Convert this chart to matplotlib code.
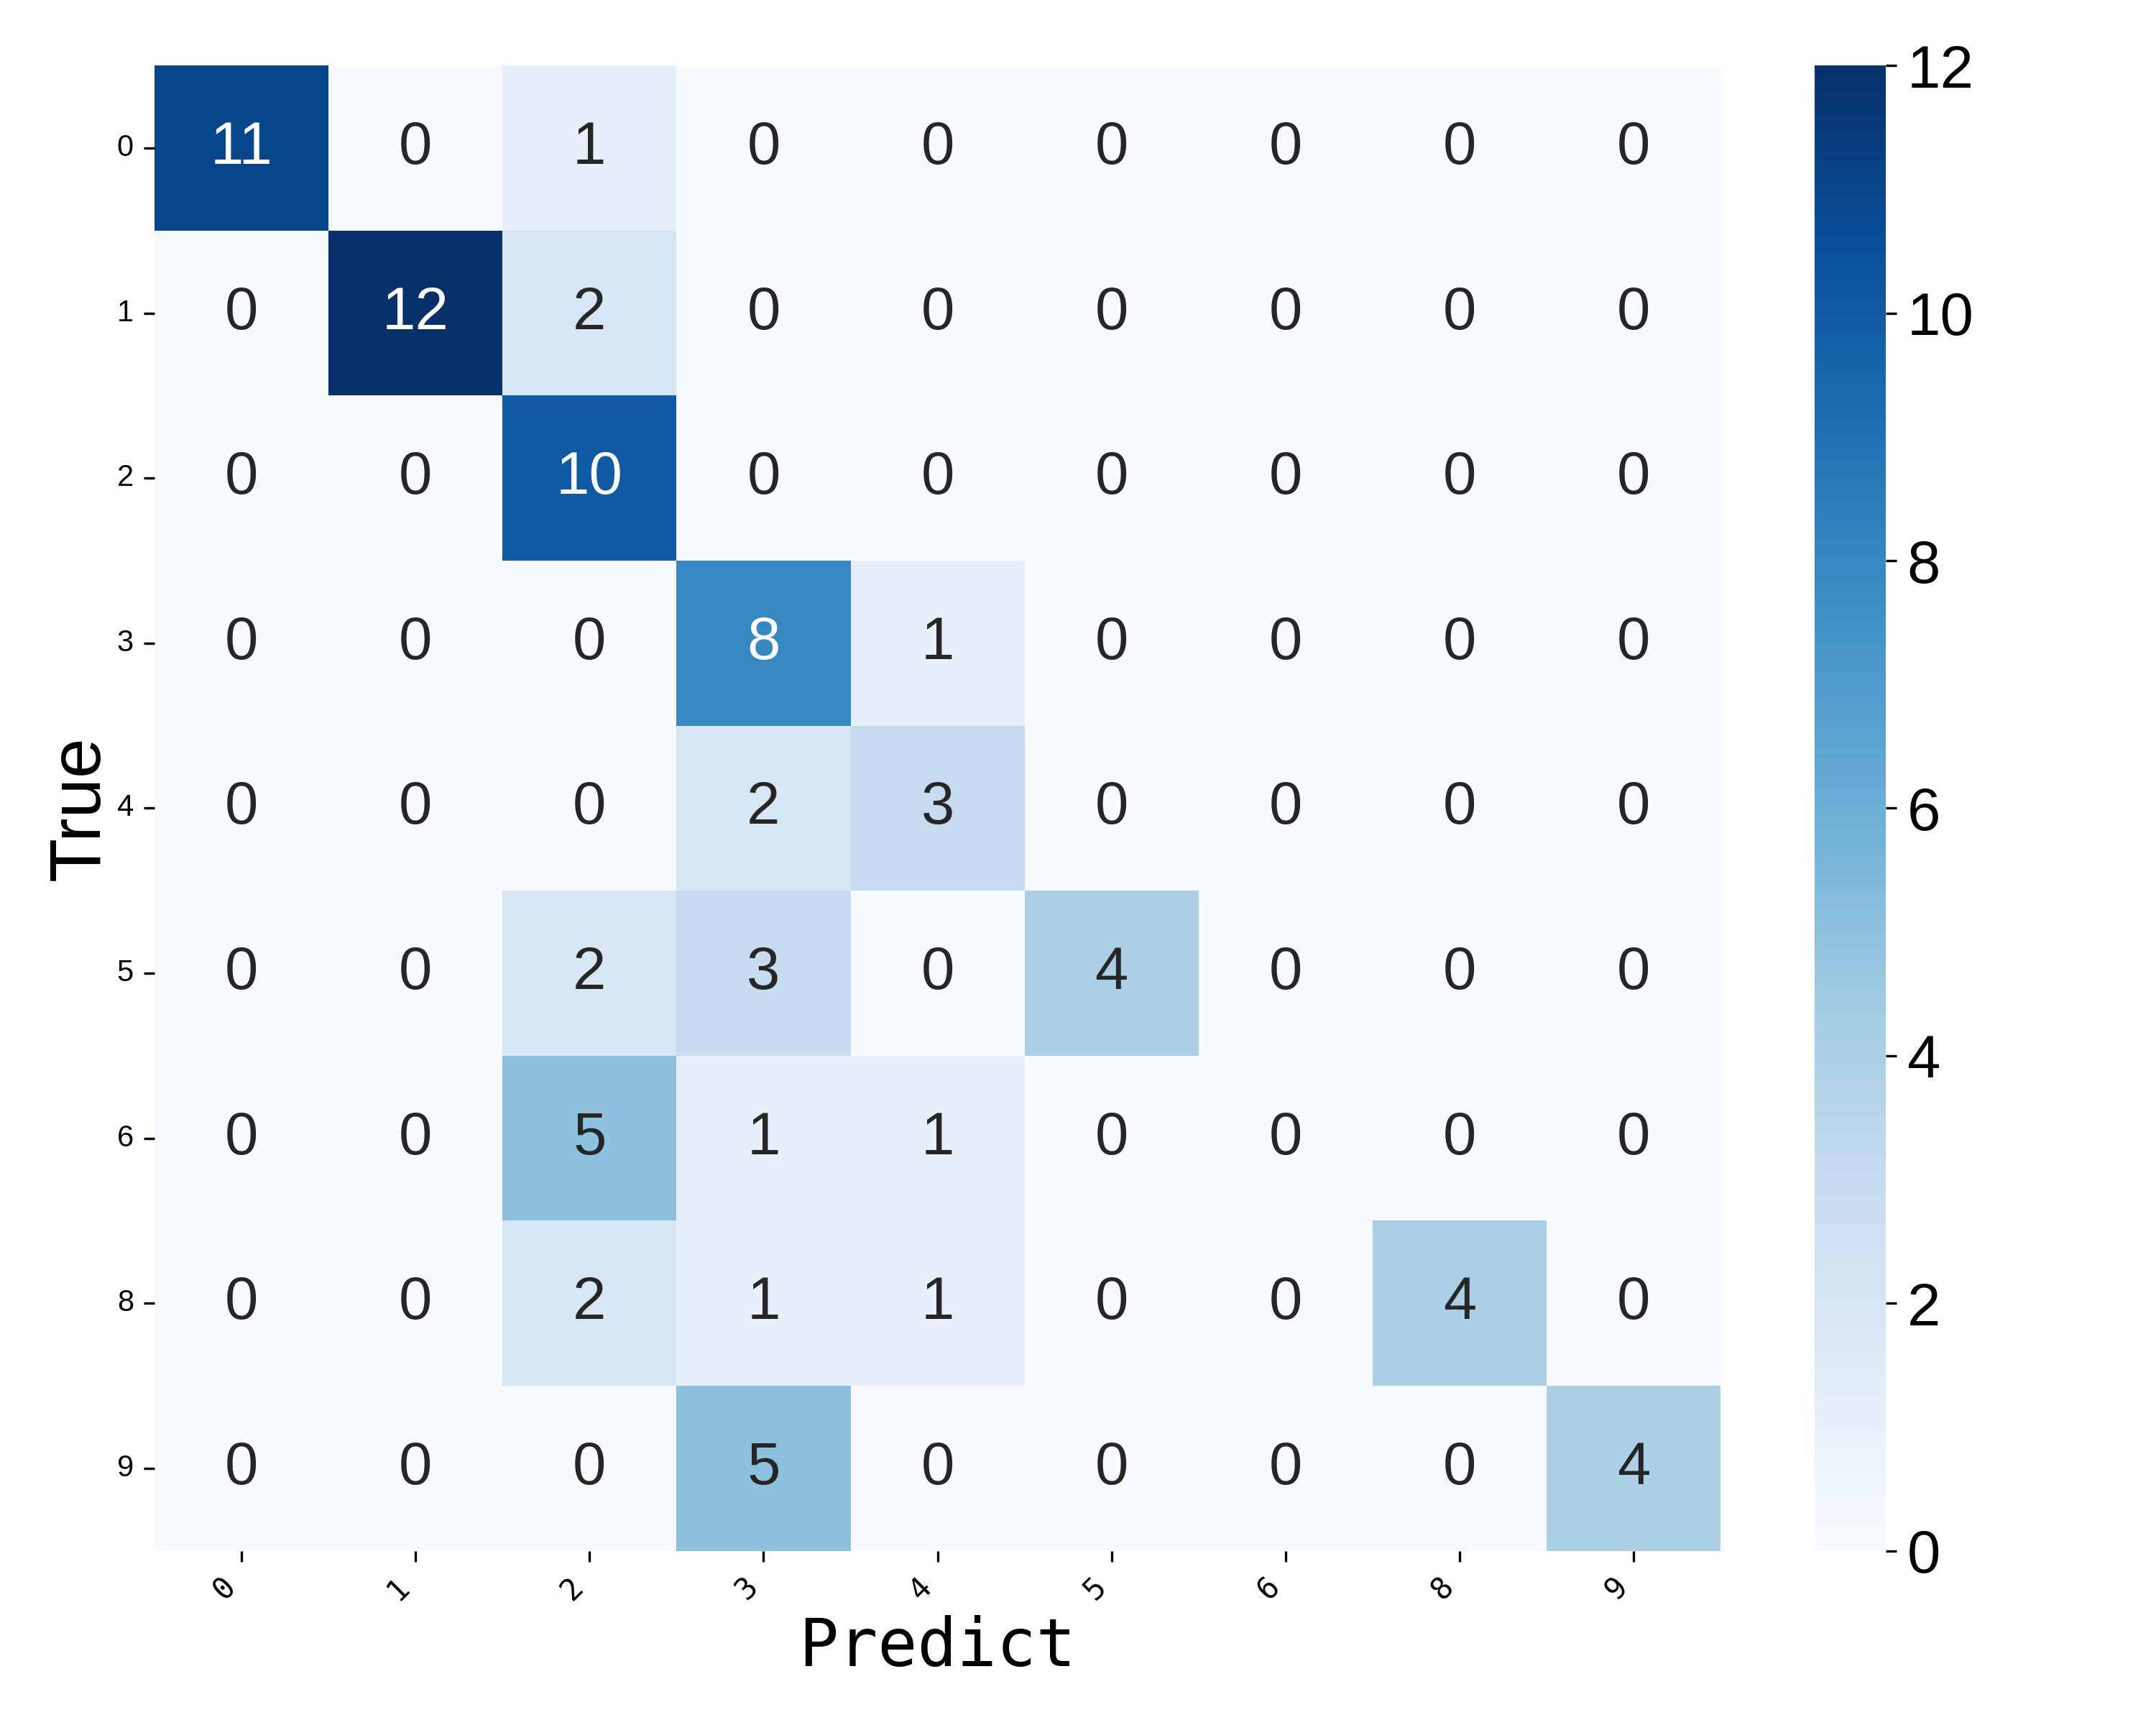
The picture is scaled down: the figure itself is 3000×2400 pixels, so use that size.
import matplotlib
matplotlib.use("Agg")
import matplotlib.pyplot as plt
import seaborn as sns
import numpy as np

labels = ["0", "1", "2", "3", "4", "5", "6", "8", "9"]
row_0 = [11, 0, 1, 0, 0, 0, 0, 0, 0]
row_1 = [0, 12, 2, 0, 0, 0, 0, 0, 0]
row_2 = [0, 0, 10, 0, 0, 0, 0, 0, 0]
row_3 = [0, 0, 0, 8, 1, 0, 0, 0, 0]
row_4 = [0, 0, 0, 2, 3, 0, 0, 0, 0]
row_5 = [0, 0, 2, 3, 0, 4, 0, 0, 0]
row_6 = [0, 0, 5, 1, 1, 0, 0, 0, 0]
row_8 = [0, 0, 2, 1, 1, 0, 0, 4, 0]
row_9 = [0, 0, 0, 5, 0, 0, 0, 0, 4]
cm = np.array([row_0, row_1, row_2, row_3, row_4, row_5, row_6, row_8, row_9])

plt.rcParams['font.family'] = ['Liberation Sans', 'DejaVu Sans']

fig = plt.figure(figsize=(10, 8), dpi=300)
ax = fig.add_axes([0.0717, 0.101, 0.7263, 0.861])
cax = fig.add_axes([0.8417, 0.101, 0.033, 0.861])

sns.heatmap(cm, annot=True, fmt="d", cmap="Blues", ax=ax, cbar_ax=cax,
            xticklabels=labels, yticklabels=labels,
            annot_kws={"fontsize": 20})

ax.set_xticklabels(labels, rotation=45, ha="right", fontsize=10,
                   family=["DejaVu Sans Mono"])
ax.set_yticklabels(labels, rotation=0, fontsize=10)
ax.set_xlabel("Predict", fontsize=22, family=["DejaVu Sans Mono"], labelpad=3)
ax.set_ylabel("True", fontsize=24, labelpad=1)

cax.tick_params(labelsize=20)
for sp in cax.spines.values():
    sp.set_visible(False)

fig.savefig("out.png", dpi=300)
